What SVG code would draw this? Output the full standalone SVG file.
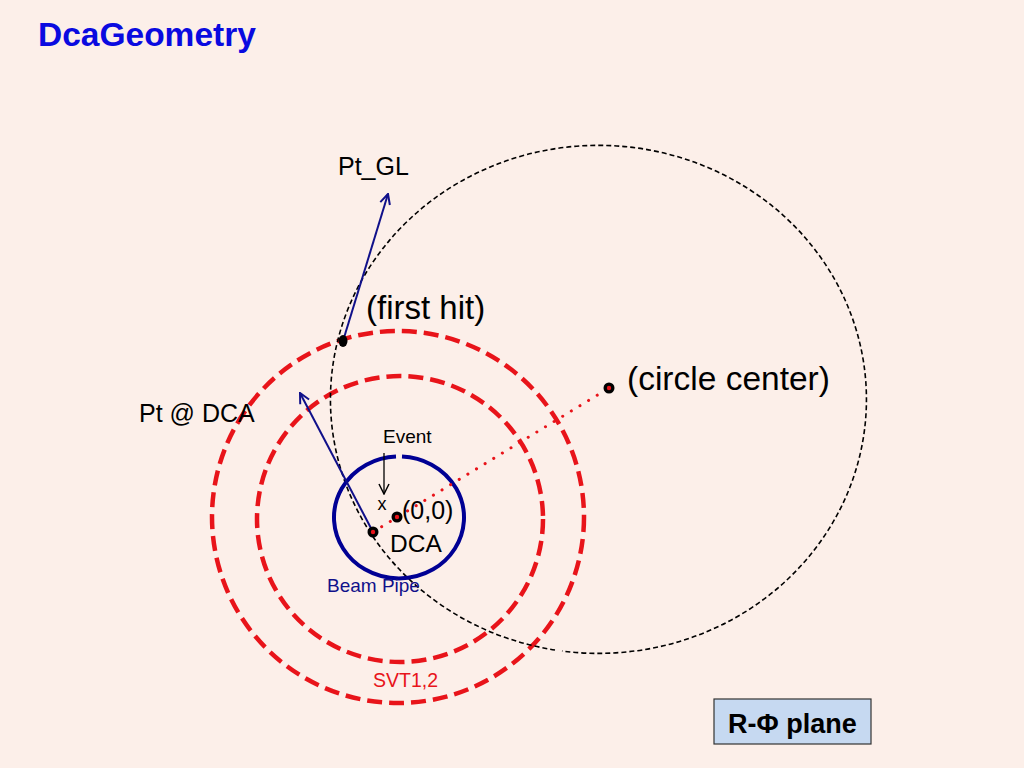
<svg xmlns="http://www.w3.org/2000/svg" width="1024" height="768" viewBox="0 0 1024 768">
<defs>
<style>
text{font-family:"Liberation Sans",Arial,sans-serif;}
.lbl{fill:#000;}
.red{fill:none;stroke:#e8141a;stroke-width:4.5;stroke-dasharray:15 7;}
.track{fill:none;stroke:#000;stroke-width:1.6;stroke-dasharray:5 3;}
.vec{stroke:#10108a;stroke-width:2;fill:none;}
.dotout{fill:#000;}
.dotin{fill:#e8141a;}
</style>
<marker id="ah" viewBox="0 0 12 12" refX="11" refY="6" markerWidth="12" markerHeight="12" markerUnits="userSpaceOnUse" orient="auto">
<path d="M1,1 L11,6 L1,11" fill="none" stroke="#10108a" stroke-width="2"/>
</marker>
<marker id="ahk" viewBox="0 0 12 12" refX="11" refY="6" markerWidth="12" markerHeight="12" markerUnits="userSpaceOnUse" orient="auto">
<path d="M1,1 L11,6 L1,11" fill="none" stroke="#000" stroke-width="1.5"/>
</marker>
</defs>
<rect width="1024" height="768" fill="#fcefe9"/>
<text x="38" y="46" font-size="33.5" font-weight="bold" fill="#0a0ae0">DcaGeometry</text>

<g id="svt-outer"><circle cx="398" cy="517" r="186" class="red"/></g>
<g id="svt-inner"><circle cx="400" cy="519" r="143" class="red"/></g>
<g id="track-circle"><path class="track" d="M555,650 A268,254 0 1,1 562,651"/></g>
<g id="beam-pipe"><path d="M402,456.5 A65,61 0 1,1 396,456.5" fill="none" stroke="#000094" stroke-width="4"/></g>

<g id="connectors">
<line x1="373" y1="532" x2="609" y2="388" stroke="#e8141a" stroke-width="3" stroke-linecap="round" stroke-dasharray="0.1 10"/>
<line x1="343" y1="341" x2="388" y2="194" class="vec" marker-end="url(#ah)"/>
<line x1="373" y1="532" x2="300" y2="393" class="vec" marker-end="url(#ah)"/>
<line x1="384" y1="453" x2="384" y2="494" stroke="#000" stroke-width="1.3" marker-end="url(#ahk)"/>
</g>

<g id="first-hit"><ellipse cx="343" cy="341" rx="4.5" ry="6" class="dotout"/><text x="366" y="319" font-size="33" class="lbl">(first hit)</text></g>
<g id="circle-center"><circle cx="609" cy="388" r="5.5" class="dotout"/><circle cx="609" cy="388" r="2.2" class="dotin"/><text x="627" y="390" font-size="33.5" class="lbl">(circle center)</text></g>
<g id="origin"><circle cx="397" cy="517" r="5.5" class="dotout"/><circle cx="397" cy="517" r="2.2" class="dotin"/><text x="402" y="519" font-size="25" class="lbl">(0,0)</text></g>
<g id="dca"><circle cx="373" cy="532" r="5.5" class="dotout"/><circle cx="373" cy="532" r="2.2" class="dotin"/><text x="390" y="552" font-size="24.5" class="lbl">DCA</text></g>
<g id="pt-gl"><text x="338" y="175" font-size="25" class="lbl">Pt_GL</text></g>
<g id="pt-dca"><text x="139" y="422" font-size="25" class="lbl">Pt @ DCA</text></g>
<g id="event"><text x="383" y="443" font-size="19" class="lbl">Event</text><text x="382" y="510" font-size="18" text-anchor="middle" class="lbl">x</text></g>
<g id="beam-label"><text x="327" y="592" font-size="19" fill="#10108a">Beam Pipe</text></g>
<g id="svt-label"><text x="373" y="687" font-size="19.5" fill="#e8141a">SVT1,2</text></g>
<g id="plane-box"><rect x="714" y="699" width="157" height="45" fill="#c6d9f1" stroke="#333" stroke-width="1.2"/><text x="728" y="733" font-size="27" font-weight="bold" class="lbl">R-Φ plane</text></g>
</svg>
